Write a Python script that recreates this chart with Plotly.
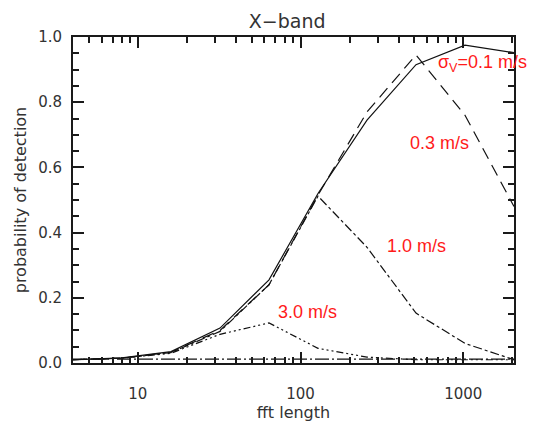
import math
import plotly.graph_objects as go

fft_length = [4, 8, 16, 32, 64, 128, 256, 512, 1024, 2048]
pd_01 = [0.010, 0.016, 0.035, 0.107, 0.255, 0.520, 0.745, 0.915, 0.975, 0.952]
pd_03 = [0.010, 0.015, 0.033, 0.100, 0.240, 0.515, 0.770, 0.945, 0.760, 0.480]
pd_10 = [0.010, 0.015, 0.032, 0.097, 0.240, 0.512, 0.355, 0.153, 0.060, 0.010]
pd_30 = [0.010, 0.015, 0.030, 0.088, 0.123, 0.045, 0.018, 0.010, 0.010, 0.010]
pd_floor = [0.012] * 10

x_major = [10, 100, 1000]
x_minor = [4, 5, 6, 7, 8, 9, 20, 30, 40, 50, 60, 70, 80, 90,
           200, 300, 400, 500, 600, 700, 800, 900, 2000]
y_major = [0.0, 0.2, 0.4, 0.6, 0.8, 1.0]
y_minor = [0.05, 0.1, 0.15, 0.25, 0.3, 0.35, 0.45, 0.5, 0.55, 0.65, 0.7, 0.75,
           0.85, 0.9, 0.95]

series = [
    ("0.1 m/s", pd_01, "solid"),
    ("0.3 m/s", pd_03, "12px,7px"),
    ("1.0 m/s", pd_10, "dashdot"),
    ("3.0 m/s", pd_30, "7px,3px,2px,3px,2px,3px,2px,3px"),
    ("floor", pd_floor, "14px,3px,2px,3px"),
]

# label text, left-edge fft length, probability
labels = [
    ("σ<sub>V</sub>=0.1 m/s", 675, 0.92),
    ("0.3 m/s", 455, 0.675),
    ("1.0 m/s", 330, 0.36),
    ("3.0 m/s", 71, 0.155),
]

XR = [math.log10(4), math.log10(2048)]
YR = [0, 1.0]
INK = "#1a1a1a"

fig = go.Figure()
for name, ys, dash in series:
    fig.add_trace(go.Scatter(x=fft_length, y=ys, mode="lines", name=name,
                             line=dict(color="#111", width=1.2, dash=dash),
                             showlegend=False))
# invisible trace to carry the minor-tick axes
fig.add_trace(go.Scatter(x=[fft_length[0]], y=[pd_floor[0]], xaxis="x2", yaxis="y2",
                         mode="markers", marker=dict(opacity=0), showlegend=False,
                         hoverinfo="skip"))

for text, x, y in labels:
    fig.add_annotation(x=math.log10(x), y=y, xref="x", yref="y", text=text,
                       showarrow=False, xanchor="left", yanchor="middle",
                       font=dict(family="Liberation Sans, Arial", size=18, color="#ff1a1a"))

tick_font = dict(family="DejaVu Sans", size=15, color="#333")
title_font = dict(family="DejaVu Sans", size=16, color="#333")
fig.update_layout(
    width=548, height=422,
    margin=dict(l=73, r=34, t=37, b=59),
    paper_bgcolor="white", plot_bgcolor="white",
    title=dict(text="X\u2212band", x=0.524, xanchor="center", y=0.95, yanchor="middle",
               font=dict(family="DejaVu Sans", size=19, color="#333")),
    font=tick_font,
    xaxis=dict(type="log", range=XR, automargin=False,
               showline=True, linecolor=INK, linewidth=2, mirror="allticks",
               ticks="inside", ticklen=11, tickcolor=INK, tickwidth=2,
               tickvals=x_major, ticktext=[str(v) for v in x_major],
               ticklabelstandoff=16, tickfont=tick_font,
               showgrid=False, zeroline=False,
               title=dict(text="fft length", standoff=4, font=title_font)),
    yaxis=dict(range=YR, automargin=False,
               showline=True, linecolor=INK, linewidth=2, mirror="allticks",
               ticks="inside", ticklen=11, tickcolor=INK, tickwidth=2,
               tickvals=y_major, ticktext=["%.1f" % v for v in y_major],
               ticklabelstandoff=6, tickfont=tick_font,
               showgrid=False, zeroline=False,
               title=dict(text="probability of detection", standoff=8, font=title_font)),
    xaxis2=dict(type="log", range=XR, overlaying="x", anchor="y", side="bottom",
                showline=False, mirror="allticks", ticks="inside", ticklen=6,
                tickcolor=INK, tickwidth=2, tickvals=x_minor,
                showticklabels=False, showgrid=False, zeroline=False),
    yaxis2=dict(range=YR, overlaying="y", anchor="x", side="left",
                showline=False, mirror="allticks", ticks="inside", ticklen=6,
                tickcolor=INK, tickwidth=2, tickvals=y_minor,
                showticklabels=False, showgrid=False, zeroline=False),
)

fig.write_html("out.html")
